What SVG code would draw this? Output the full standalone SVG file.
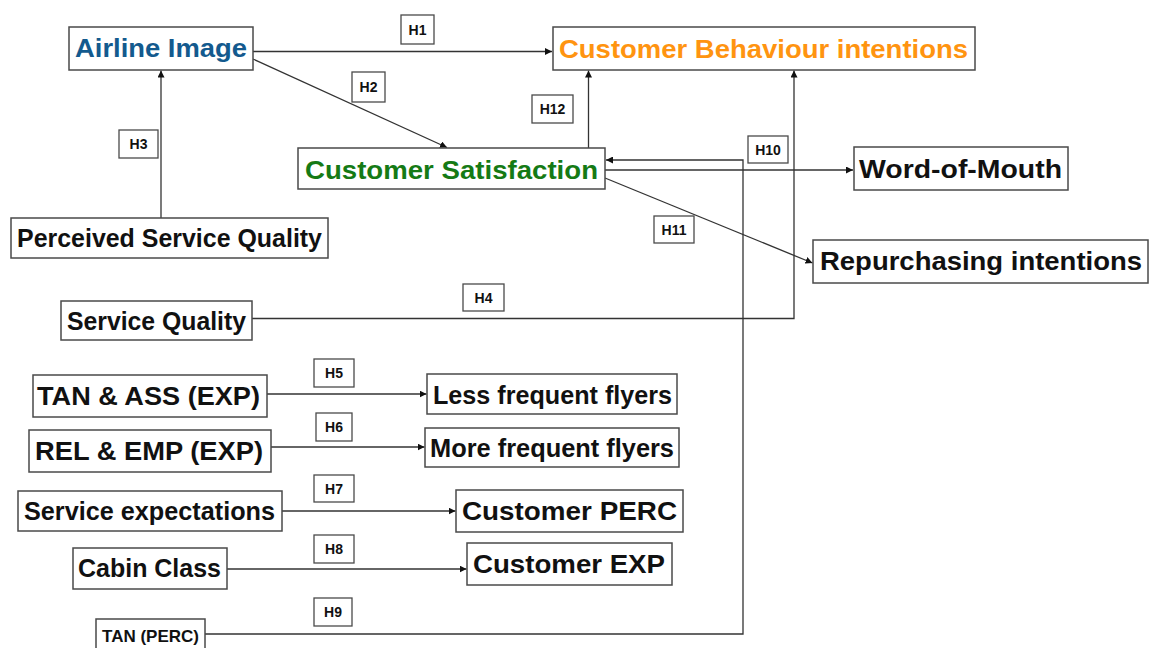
<svg xmlns="http://www.w3.org/2000/svg" width="1155" height="648" viewBox="0 0 1155 648">
  <style>
    .box { fill: #ffffff; stroke: #4a4a4a; stroke-width: 1.5; }
    .lbl { font-family: "Liberation Sans", Arial, Helvetica, sans-serif; font-weight: bold; fill: #111111; }
    .big { font-size: 26px; }
    .mid { font-size: 25px; }
    .hbox { fill: #ffffff; stroke: #4a4a4a; stroke-width: 1.3; }
    .htxt { font-family: "Liberation Sans", Arial, Helvetica, sans-serif; font-weight: bold; font-size: 14px; fill: #111111; text-anchor: middle; }
    .edge { fill: none; stroke: #333333; stroke-width: 1.3; }
    .arr { marker-end: url(#tip); }
  </style>
  <defs>
    <marker id="tip" markerUnits="userSpaceOnUse" markerWidth="8" markerHeight="7" refX="7" refY="3.5" orient="auto">
      <path d="M0,0 L7,3.5 L0,7 z" fill="#111111"/>
    </marker>
  </defs>
  <rect width="1155" height="648" fill="#ffffff"/>

  <!-- connectors -->
  <g id="connectors">
    <line class="edge arr" x1="253" y1="51.5" x2="552" y2="51.5"/>
    <line class="edge arr" x1="253" y1="59" x2="447" y2="147.5"/>
    <line class="edge arr" x1="161" y1="218" x2="161" y2="70.5"/>
    <line class="edge arr" x1="588.5" y1="148" x2="588.5" y2="70.5"/>
    <polyline class="edge arr" points="252,318.5 794,318.5 794,70.5"/>
    <polyline class="edge arr" points="205,634 743,634 743,160 606,160"/>
    <line class="edge arr" x1="605" y1="170" x2="853" y2="170"/>
    <line class="edge arr" x1="605" y1="178" x2="812.5" y2="263"/>
    <line class="edge arr" x1="267" y1="394" x2="426.5" y2="394"/>
    <line class="edge arr" x1="271" y1="447" x2="424.5" y2="447"/>
    <line class="edge arr" x1="282" y1="511" x2="455.5" y2="511"/>
    <line class="edge arr" x1="227" y1="569" x2="466.5" y2="569"/>
  </g>

  <!-- hypothesis tags -->
  <g id="tags">
    <g id="h1"><rect class="hbox" x="401" y="15" width="33" height="29"/><text class="htxt" x="417.5" y="34.5">H1</text></g>
    <g id="h2"><rect class="hbox" x="352" y="72" width="33" height="30"/><text class="htxt" x="368.5" y="92">H2</text></g>
    <g id="h3"><rect class="hbox" x="119" y="130" width="39" height="28"/><text class="htxt" x="138.5" y="149">H3</text></g>
    <g id="h12"><rect class="hbox" x="532" y="95" width="41" height="28"/><text class="htxt" x="552.5" y="114">H12</text></g>
    <g id="h10"><rect class="hbox" x="748" y="136" width="40" height="27"/><text class="htxt" x="768" y="154.5">H10</text></g>
    <g id="h11"><rect class="hbox" x="654" y="216" width="40" height="27"/><text class="htxt" x="674" y="234.5">H11</text></g>
    <g id="h4"><rect class="hbox" x="463" y="284" width="41" height="27"/><text class="htxt" x="483.5" y="302.5">H4</text></g>
    <g id="h5"><rect class="hbox" x="314" y="359" width="40" height="28"/><text class="htxt" x="334" y="378">H5</text></g>
    <g id="h6"><rect class="hbox" x="316" y="413" width="36" height="28"/><text class="htxt" x="334" y="432">H6</text></g>
    <g id="h7"><rect class="hbox" x="314" y="475" width="40" height="27"/><text class="htxt" x="334" y="493.5">H7</text></g>
    <g id="h8"><rect class="hbox" x="314" y="535" width="40" height="28"/><text class="htxt" x="334" y="554">H8</text></g>
    <g id="h9"><rect class="hbox" x="314" y="598" width="38" height="28"/><text class="htxt" x="333" y="617">H9</text></g>
  </g>

  <!-- nodes -->
  <g id="airline-image">
    <rect class="box" x="69" y="27" width="184" height="43"/>
    <text class="lbl big" x="75" y="57" textLength="172" lengthAdjust="spacingAndGlyphs" style="fill:#135a8e">Airline Image</text>
  </g>
  <g id="customer-behaviour">
    <rect class="box" x="553" y="27" width="422" height="43"/>
    <text class="lbl big" x="559" y="58" textLength="409" lengthAdjust="spacingAndGlyphs" style="fill:#ff9410">Customer Behaviour intentions</text>
  </g>
  <g id="customer-satisfaction">
    <rect class="box" x="298" y="148" width="307" height="41"/>
    <text class="lbl big" x="305" y="179" textLength="293" lengthAdjust="spacingAndGlyphs" style="fill:#157a15">Customer Satisfaction</text>
  </g>
  <g id="word-of-mouth">
    <rect class="box" x="854" y="147" width="214" height="43"/>
    <text class="lbl big" x="859" y="178" textLength="203" lengthAdjust="spacingAndGlyphs">Word-of-Mouth</text>
  </g>
  <g id="repurchasing">
    <rect class="box" x="813" y="240" width="335" height="43"/>
    <text class="lbl big" x="820" y="270" textLength="322" lengthAdjust="spacingAndGlyphs">Repurchasing intentions</text>
  </g>
  <g id="perceived-service-quality">
    <rect class="box" x="11" y="218" width="317" height="40"/>
    <text class="lbl mid" x="17" y="247" textLength="305" lengthAdjust="spacingAndGlyphs">Perceived Service Quality</text>
  </g>
  <g id="service-quality">
    <rect class="box" x="61" y="301" width="191" height="39"/>
    <text class="lbl mid" x="67" y="330" textLength="179" lengthAdjust="spacingAndGlyphs">Service Quality</text>
  </g>
  <g id="tan-ass">
    <rect class="box" x="33" y="375" width="234" height="42"/>
    <text class="lbl big" x="37" y="405" textLength="223" lengthAdjust="spacingAndGlyphs">TAN &amp; ASS (EXP)</text>
  </g>
  <g id="rel-emp">
    <rect class="box" x="29" y="430" width="242" height="42"/>
    <text class="lbl big" x="35" y="460" textLength="228" lengthAdjust="spacingAndGlyphs">REL &amp; EMP (EXP)</text>
  </g>
  <g id="service-expectations">
    <rect class="box" x="18" y="491" width="264" height="40"/>
    <text class="lbl mid" x="24" y="520" textLength="251" lengthAdjust="spacingAndGlyphs">Service expectations</text>
  </g>
  <g id="cabin-class">
    <rect class="box" x="73" y="548" width="154" height="41"/>
    <text class="lbl mid" x="78" y="577" textLength="143" lengthAdjust="spacingAndGlyphs">Cabin Class</text>
  </g>
  <g id="tan-perc">
    <rect class="box" x="96" y="619" width="109" height="40"/>
    <text class="lbl" x="102" y="641.5" font-size="17" textLength="97" lengthAdjust="spacingAndGlyphs">TAN (PERC)</text>
  </g>
  <g id="less-frequent">
    <rect class="box" x="427" y="374" width="250" height="40"/>
    <text class="lbl mid" x="433" y="404" textLength="239" lengthAdjust="spacingAndGlyphs">Less frequent flyers</text>
  </g>
  <g id="more-frequent">
    <rect class="box" x="425" y="428" width="254" height="39"/>
    <text class="lbl mid" x="430" y="457" textLength="244" lengthAdjust="spacingAndGlyphs">More frequent flyers</text>
  </g>
  <g id="customer-perc">
    <rect class="box" x="456" y="490" width="227" height="42"/>
    <text class="lbl big" x="462" y="519.5" textLength="215" lengthAdjust="spacingAndGlyphs">Customer PERC</text>
  </g>
  <g id="customer-exp">
    <rect class="box" x="467" y="543" width="205" height="42"/>
    <text class="lbl big" x="473" y="573" textLength="192" lengthAdjust="spacingAndGlyphs">Customer EXP</text>
  </g>
</svg>
